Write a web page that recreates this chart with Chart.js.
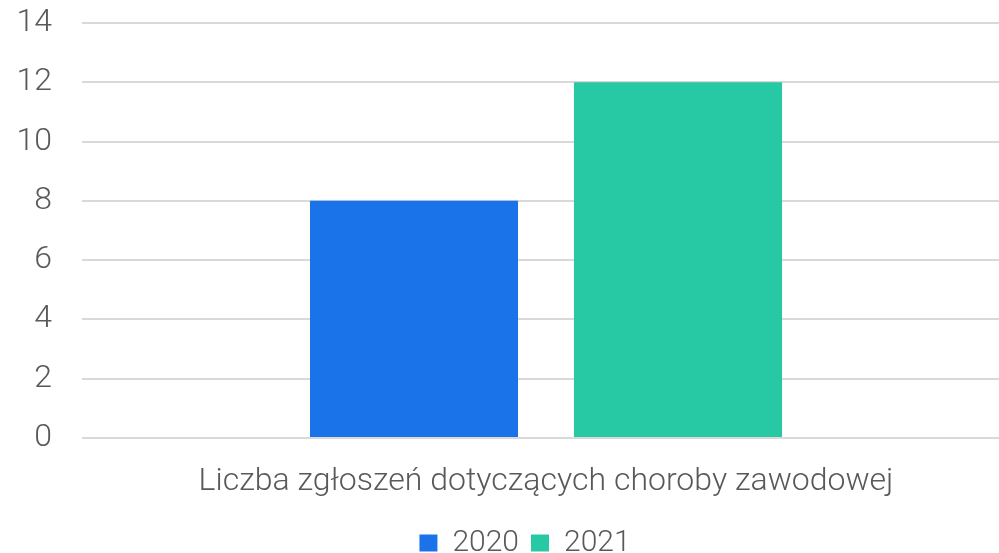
<!DOCTYPE html>
<html>
<head>
<meta charset="utf-8">
<script src="https://cdn.jsdelivr.net/npm/chart.js@4"></script>
<style>
  html, body { margin: 0; padding: 0; background: #fff; overflow: hidden; }
  #wrap { width: 1010px; height: 553px; }
</style>
</head>
<body>
<div id="wrap"><canvas id="myChart"></canvas></div>
<script>
// Data
var categories = ["Liczba zgłoszeń dotyczących choroby zawodowej"];
var seriesNames = ["2020", "2021"];
var values2020 = [8];
var values2021 = [12];
var yTicks = [0, 2, 4, 6, 8, 10, 12, 14];

var textColor = "#595959";
var fontFamily = "Roboto";

// shift the legend so it centres like the original
var legendShift = {
    id: "legendShift",
    afterLayout: function (chart) {
        chart.legend.left = 40;
    }
};

var ctx = document.getElementById("myChart").getContext("2d");
var chart = new Chart(ctx, {
    type: "bar",
    data: {
        labels: categories,
        datasets: [
            {
                label: seriesNames[0],
                backgroundColor: "#1a73e8",
                data: values2020
            },
            {
                label: seriesNames[1],
                backgroundColor: "#26c9a3",
                data: values2021
            }
        ]
    },
    options: {
        responsive: true,
        maintainAspectRatio: false,
        animation: false,
        layout: { padding: { top: 23, bottom: -15, left: 0, right: 0 } },
        categoryPercentage: 0.569,
        barPercentage: 0.788,
        plugins: {
            tooltip: { enabled: false },
            legend: {
                position: "bottom",
                labels: {
                    color: textColor,
                    font: { family: fontFamily, size: 30, weight: "300" },
                    boxWidth: 18,
                    boxHeight: 17,
                    padding: 12
                }
            }
        },
        scales: {
            x: {
                grid: { display: false },
                border: { display: false },
                afterFit: function (scale) { scale.height = 78; },
                ticks: {
                    color: textColor,
                    font: { family: fontFamily, size: 32, weight: "300" },
                    padding: 17
                }
            },
            y: {
                min: 0,
                max: yTicks[yTicks.length - 1],
                afterBuildTicks: function (scale) {
                    scale.ticks = yTicks.map(function (v) { return { value: v }; });
                },
                afterFit: function (scale) {
                    scale.width = 82;
                    scale.paddingTop = 0;
                    scale.paddingBottom = 0;
                },
                grid: { color: "#d9d9d9", lineWidth: 2, drawTicks: false },
                border: { display: false },
                ticks: {
                    color: textColor,
                    font: { family: fontFamily, size: 32, weight: "300" },
                    padding: 30
                }
            }
        }
    },
    plugins: [legendShift]
});
</script>
</body>
</html>
